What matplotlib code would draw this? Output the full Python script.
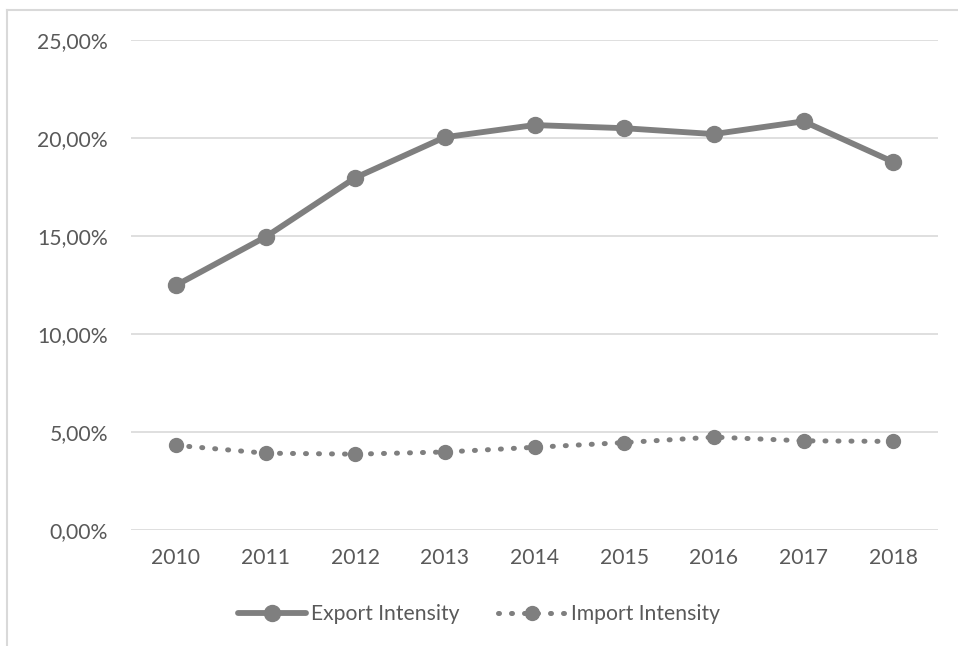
import matplotlib
matplotlib.use("Agg")
import matplotlib.pyplot as plt
from matplotlib.lines import Line2D
from matplotlib.ticker import FuncFormatter

years = ["2010", "2011", "2012", "2013", "2014", "2015", "2016", "2017", "2018"]
export_intensity = [12.48, 14.95, 17.97, 20.04, 20.66, 20.50, 20.20, 20.85, 18.78]
import_intensity = [4.32, 3.92, 3.87, 3.98, 4.22, 4.46, 4.74, 4.55, 4.52]
y_ticks = [0, 5, 10, 15, 20, 25]

plt.rcParams["font.family"] = ["Lato", "DejaVu Sans"]
text_color = "#595959"
line_color = "#7f7f7f"
grid_color = "#d9d9d9"
fs = 15.2

fig = plt.figure(figsize=(9.58, 6.46), dpi=100)
ax = fig.add_axes([131 / 958, 1 - 530 / 646, (938 - 131) / 958, (530 - 40) / 646])

x = list(range(len(years)))
ax.plot(x, export_intensity, color=line_color, lw=4.2, marker="o", ms=11.5,
        solid_capstyle="round", label="Export Intensity", zorder=3)
ax.plot(x, import_intensity, color=line_color, lw=3.6, ls=(0, (0.2, 2.4)),
        dash_capstyle="round", marker="o", ms=10, label="Import Intensity", zorder=3)

ax.set_xlim(-0.5, len(years) - 0.5)
ax.set_ylim(0, 25)
ax.set_yticks(y_ticks)
ax.yaxis.set_major_formatter(FuncFormatter(lambda v, p: f"{v:.2f}".replace(".", ",") + "%"))
ax.set_xticks(x)
ax.set_xticklabels(years)
ax.grid(axis="y", color=grid_color, lw=1.2)
ax.set_axisbelow(True)
for s in ax.spines.values():
    s.set_visible(False)
ax.tick_params(axis="both", length=0, labelsize=fs, colors=text_color)
ax.tick_params(axis="y", pad=16.5)
ax.tick_params(axis="x", pad=13)

leg = fig.legend(loc="center", bbox_to_anchor=(479 / 958, 1 - 614 / 646), ncol=2,
                 frameon=False, fontsize=fs, handlelength=3.2, handletextpad=0.25,
                 columnspacing=1.8, labelcolor=text_color)

# chart frame
fig.add_artist(Line2D([7 / 958, 1], [1 - 10 / 646] * 2, color=grid_color, lw=1.5,
                      transform=fig.transFigure))
fig.add_artist(Line2D([7 / 958] * 2, [0, 1 - 10 / 646], color=grid_color, lw=1.5,
                      transform=fig.transFigure))

fig.savefig("out.png", dpi=100, facecolor="white")
